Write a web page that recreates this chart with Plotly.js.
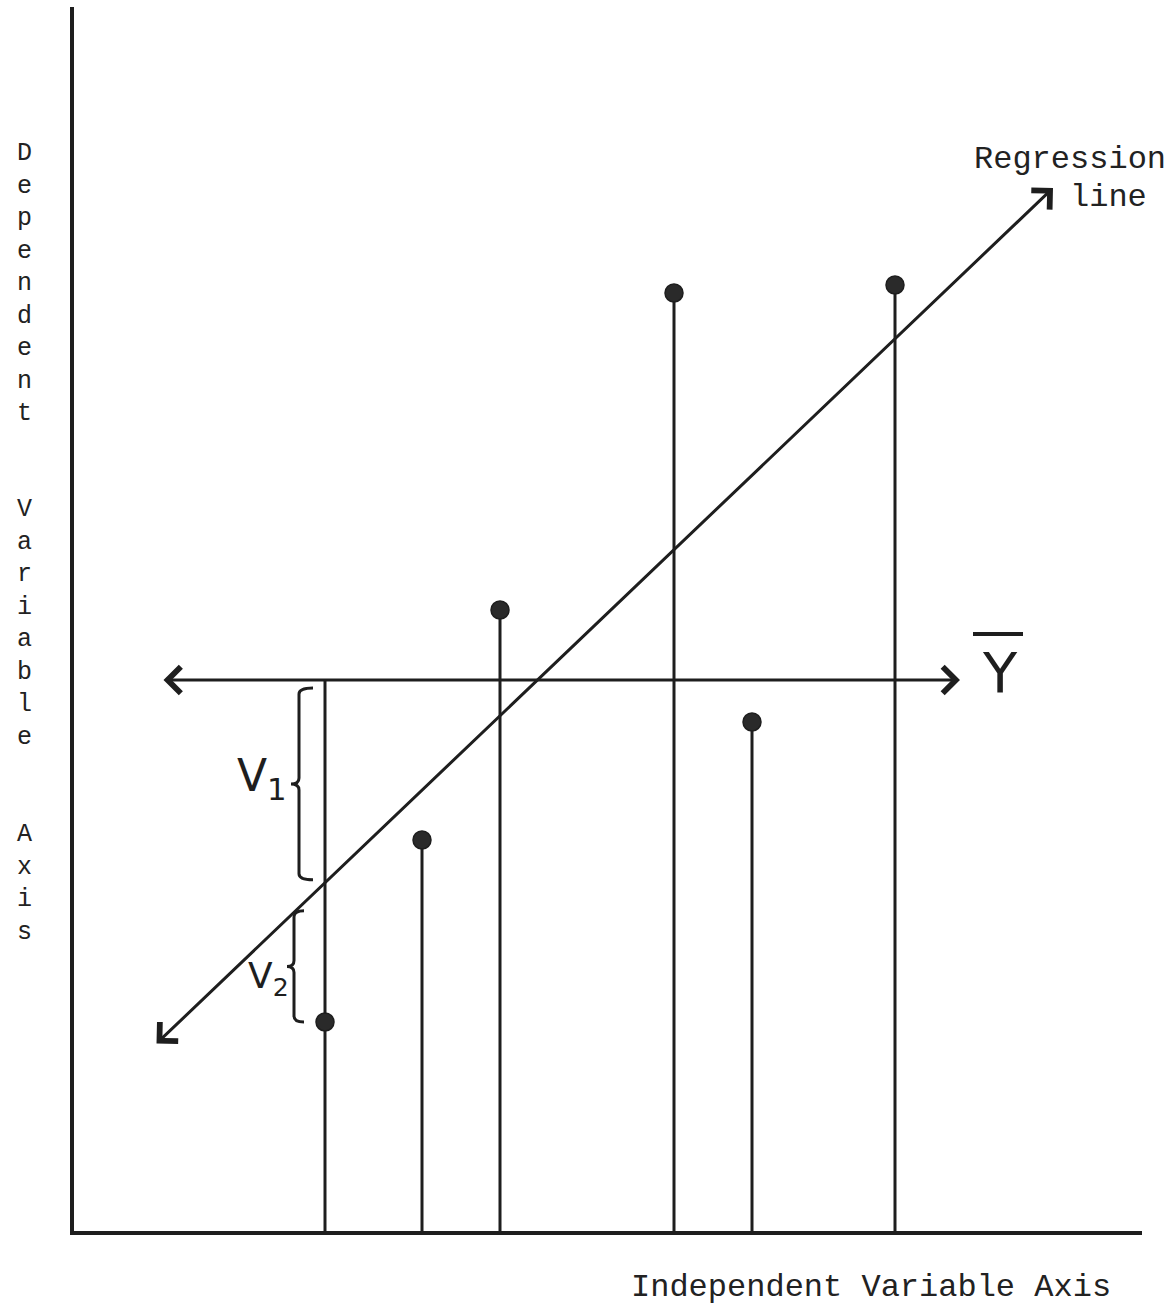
<!DOCTYPE html>
<html>
<head>
<meta charset="utf-8">
<script src="https://cdn.plot.ly/plotly-3.0.1.min.js"></script>
<style>html,body{margin:0;padding:0;background:#fff;}#chart{width:1176px;height:1308px;}</style>
</head>
<body>
<div id="chart"></div>
<script>
// ---- data (arbitrary units) ----
const pointX = [2.53, 3.50, 4.28, 6.02, 6.80, 8.23];
const pointY = [2.10, 3.92, 6.22, 9.39, 5.10, 9.47];
const meanY = 5.52;
const meanLineX = [0.90, 8.88];
const regX = [0.83, 9.81];
const regY = [1.87, 10.44];
const xTitle = 'Independent Variable Axis';
const yTitleWords = ['Dependent', 'Variable', 'Axis'];
const regLabel = ['Regression', 'line'];
const meanLabel = 'Y';
const devLabels = ['V<sub>1</sub>', 'V<sub>2</sub>'];

// ---- helpers ----
const INK = '#1e1e1e';
const W = 1176, H = 1308;
const M = {l: 74, r: 34, t: 7, b: 77};
const PW = W - M.l - M.r, PH = H - M.t - M.b;
const P = (px, py) => ({x: (px - M.l) / PW, y: (H - M.b - py) / PH});
const yhat = x => regY[0] + (regY[1] - regY[0]) / (regX[1] - regX[0]) * (x - regX[0]);

// stems
const stemX = [], stemY = [];
pointX.forEach((x, i) => { stemX.push(x, x, null); stemY.push(0, pointY[i], null); });

const traces = [
  {x: stemX, y: stemY, mode: 'lines', line: {color: INK, width: 3}, hoverinfo: 'skip'},
  {x: [pointX[0], pointX[0]], y: [pointY[0], meanY], mode: 'lines', line: {color: INK, width: 3}, hoverinfo: 'skip'},
  {x: pointX, y: pointY, mode: 'markers', marker: {color: '#2a2a2a', size: 18, line: {color: INK, width: 1.5}}, hoverinfo: 'skip'}
];

// braces
function brace(x, yTop, yBot, hook, depth) {
  const mid = (yTop + yBot) / 2;
  const r = 0.06;
  return 'M' + (x + hook) + ',' + yTop +
    ' Q' + x + ',' + yTop + ' ' + x + ',' + (yTop - r) +
    ' L' + x + ',' + (mid + r) +
    ' Q' + x + ',' + mid + ' ' + (x - depth) + ',' + mid +
    ' Q' + x + ',' + mid + ' ' + x + ',' + (mid - r) +
    ' L' + x + ',' + (yBot + r) +
    ' Q' + x + ',' + yBot + ' ' + (x + hook) + ',' + yBot;
}
const yh1 = yhat(pointX[0]);
const shapes = [
  {type: 'path', xref: 'x', yref: 'y', path: brace(2.27, meanY - 0.08, yh1 + 0.03, 0.14, 0.08), line: {color: INK, width: 3}},
  {type: 'path', xref: 'x', yref: 'y', path: brace(2.22, yh1 - 0.28, pointY[0], 0.1, 0.07), line: {color: INK, width: 3}},
  // overbar of Y-bar label
  {type: 'line', xref: 'paper', yref: 'paper', x0: P(973, 0).x, x1: P(1023, 0).x, y0: P(0, 634).y, y1: P(0, 634).y, line: {color: INK, width: 4}}
];

const mono = {family: 'Liberation Mono, Courier New, monospace', size: 32, color: '#222'};
const monoV = {family: 'Liberation Mono, Courier New, monospace', size: 25, color: '#222'};
const annotations = [];

// double-headed arrows
[[meanLineX, [meanY, meanY]], [regX, regY]].forEach(([xs, ys]) => {
  annotations.push({
    xref: 'x', yref: 'y', axref: 'x', ayref: 'y',
    x: xs[1], y: ys[1], ax: xs[0], ay: ys[0], text: '',
    showarrow: true, arrowside: 'end+start', arrowhead: 4, startarrowhead: 4,
    arrowsize: 1.7, startarrowsize: 1.7, arrowwidth: 3, arrowcolor: INK, standoff: 0, startstandoff: 0
  });
});

// vertical stacked y title (one letter per typewriter line)
const LINE = 32.4;
let line = 0;
yTitleWords.forEach((w, wi) => {
  if (wi > 0) line += 2;
  const n = w.length;
  const p = P(24, 154 + LINE * (line + (n - 1) / 2));
  annotations.push({xref: 'paper', yref: 'paper', x: p.x, y: p.y, xanchor: 'center', yanchor: 'middle',
    text: w.split('').join('<br>'), showarrow: false, font: monoV, align: 'center'});
  line += n;
});

// x title
const pX = P(871, 1287);
annotations.push({xref: 'paper', yref: 'paper', x: pX.x, y: pX.y, xanchor: 'center', yanchor: 'middle',
  text: xTitle, showarrow: false, font: mono});

// regression label
const pR1 = P(973, 159), pR2 = P(1069, 197);
annotations.push({xref: 'paper', yref: 'paper', x: pR1.x, y: pR1.y, xanchor: 'left', yanchor: 'middle',
  text: regLabel[0], showarrow: false, font: mono, borderpad: 0});
annotations.push({xref: 'paper', yref: 'paper', x: pR2.x, y: pR2.y, xanchor: 'left', yanchor: 'middle',
  text: regLabel[1], showarrow: false, font: mono, borderpad: 0});

// Y-bar label
const pY = P(1000, 672);
annotations.push({xref: 'paper', yref: 'paper', x: pY.x, y: pY.y, xanchor: 'center', yanchor: 'middle',
  text: meanLabel, showarrow: false, font: {family: 'DejaVu Sans, sans-serif', size: 56, color: INK}});

// V labels
const pV1 = P(262, 778), pV2 = P(268, 978);
annotations.push({xref: 'paper', yref: 'paper', x: pV1.x, y: pV1.y, xanchor: 'center', yanchor: 'middle',
  text: devLabels[0], showarrow: false, font: {family: 'DejaVu Sans, sans-serif', size: 44, color: INK}});
annotations.push({xref: 'paper', yref: 'paper', x: pV2.x, y: pV2.y, xanchor: 'center', yanchor: 'middle',
  text: devLabels[1], showarrow: false, font: {family: 'DejaVu Sans, sans-serif', size: 36, color: INK}});

const axisCommon = {showgrid: false, zeroline: false, showticklabels: false, ticks: '',
  showline: true, linewidth: 4, linecolor: INK, fixedrange: true};

const layout = {
  width: W, height: H, autosize: false,
  margin: M,
  paper_bgcolor: '#fff', plot_bgcolor: '#fff',
  showlegend: false,
  xaxis: Object.assign({range: [0.02, 0.02 + PW / 100]}, axisCommon),
  yaxis: Object.assign({range: [0.01, 0.01 + PH / 100]}, axisCommon),
  shapes: shapes,
  annotations: annotations
};

Plotly.newPlot('chart', traces, layout, {staticPlot: true, displayModeBar: false});
</script>
</body>
</html>
